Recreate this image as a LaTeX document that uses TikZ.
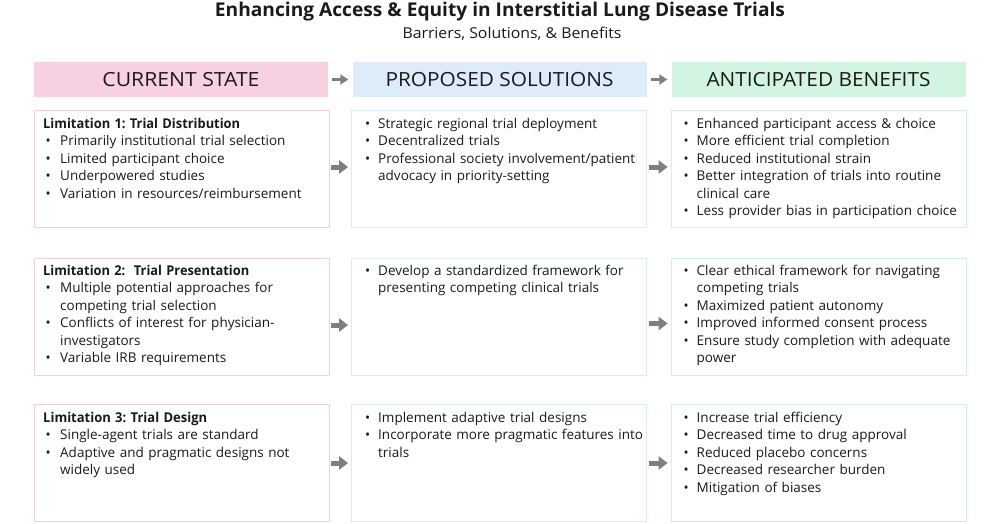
\documentclass[tikz,border=0pt]{standalone}
\usepackage{fontspec}
\setmainfont{Open Sans}
\usetikzlibrary{arrows.meta}
\definecolor{pinkfill}{HTML}{F7D0E1}
\definecolor{bluefill}{HTML}{DEEBF8}
\definecolor{greenfill}{HTML}{D4F4E2}
\definecolor{pinkline}{HTML}{F2D0DA}
\definecolor{blueline}{HTML}{D8EBF7}
\definecolor{greenline}{HTML}{D3EFE4}
\definecolor{arrowgray}{HTML}{7F7F7F}
\definecolor{ink}{HTML}{1A1A1A}
\newlength{\bo}\newlength{\bw}
\newcommand{\bitem}[1]{\noindent\hangindent=\bw\hangafter=1\strut\makebox[\bw][l]{\hspace{\bo}\textbullet}#1\par}
\newcommand{\bhead}[1]{\noindent\strut\textbf{#1}\par}
\begin{document}
\begin{tikzpicture}[x=1pt,y=-1pt,
  hdr/.style={minimum width=294pt,minimum height=35pt,inner sep=0pt,text=ink},
  cell/.style={draw=#1,line width=0.8pt,minimum width=295pt,minimum height=117pt,inner sep=0pt},
  txt/.style={inner sep=0pt,anchor=north west,text width=300pt,align=left,text=ink,
     font=\fontsize{13.5}{17.5}\selectfont\frenchspacing},
  colA/.style={txt,execute at begin node={\setlength{\bo}{2.5pt}\setlength{\bw}{17pt}\parindent=0pt}},
  colB/.style={txt,execute at begin node={\setlength{\bo}{1.5pt}\setlength{\bw}{14.5pt}\parindent=0pt}},
  arr/.style={arrowgray,line width=5pt,-{Triangle[length=9pt,width=13pt]},shorten <=2pt,shorten >=3pt},
  harr/.style={arrowgray,line width=3.5pt,-{Triangle[length=8pt,width=10pt]},shorten <=4pt,shorten >=4pt}
]
\useasboundingbox (0,0) rectangle (1000,523);
% title
\node[text=ink] (title) at (500,12) {\resizebox{570pt}{\height}{\fontsize{19}{22}\selectfont\bfseries Enhancing Access \& Equity in Interstitial Lung Disease Trials}};
\node[text=ink] (sub) at (512,34) {\resizebox{219pt}{\height}{\fontsize{15}{18}\selectfont Barriers, Solutions, \& Benefits}};
% headers
\node[hdr,fill=pinkfill] (h1) at (181,79.5) {\resizebox{157pt}{\height}{\fontsize{19.5}{22}\selectfont CURRENT STATE}};
\node[hdr,fill=bluefill] (h2) at (499.5,79.5) {\resizebox{228pt}{\height}{\fontsize{19.5}{22}\selectfont PROPOSED SOLUTIONS}};
\node[hdr,fill=greenfill] (h3) at (818.5,79.5) {\resizebox{224pt}{\height}{\fontsize{19.5}{22}\selectfont ANTICIPATED BENEFITS}};
\draw[harr] (h1) -- (h2);
\draw[harr] (h2) -- (h3);
% boxes
\node[cell=pinkline] (b11) at (181.5,169) {};
\node[cell=blueline] (b12) at (499,169) {};
\node[cell=greenline] (b13) at (818.5,169) {};
\node[cell=pinkline] (b21) at (181.5,316.5) {};
\node[cell=blueline] (b22) at (499,316.5) {};
\node[cell=greenline] (b23) at (818.5,316.5) {};
\node[cell=pinkline] (b31) at (181.5,463) {};
\node[cell=blueline] (b32) at (499,463) {};
\node[cell=greenline] (b33) at (818.5,463) {};
% texts row 1
\node[colA] (t11) at (43,116) {\bhead{\resizebox{197pt}{\height}{Limitation 1: Trial Distribution}}
\bitem{Primarily institutional trial selection}
\bitem{Limited participant choice}
\bitem{Underpowered studies}
\bitem{Variation in resources/reimbursement}};
\node[colB] (t12) at (363.5,116) {\bitem{Strategic regional trial deployment}
\bitem{Decentralized trials}
\bitem{Professional society involvement/patient\newline advocacy in priority-setting}};
\node[colB] (t13) at (682,116) {\bitem{Enhanced participant access \& choice}
\bitem{More efficient trial completion}
\bitem{Reduced institutional strain}
\bitem{Better integration of trials into routine\newline clinical care}
\bitem{Less provider bias in participation choice}};
% texts row 2
\node[colA] (t21) at (43,263) {\bhead{\resizebox{206pt}{\height}{Limitation 2:\ \ Trial Presentation}}
\bitem{Multiple potential approaches for\newline competing trial selection}
\bitem{Conflicts of interest for physician-\newline investigators}
\bitem{Variable IRB requirements}};
\node[colB] (t22) at (363.5,263) {\bitem{Develop a standardized framework for\newline presenting competing clinical trials}};
\node[colB] (t23) at (682,263) {\bitem{Clear ethical framework for navigating\newline competing trials}
\bitem{Maximized patient autonomy}
\bitem{Improved informed consent process}
\bitem{Ensure study completion with adequate\newline power}};
% texts row 3
\node[colA] (t31) at (43,410) {\bhead{\resizebox{164pt}{\height}{Limitation 3: Trial Design}}
\bitem{Single-agent trials are standard}
\bitem{Adaptive and pragmatic designs not\newline widely used}};
\node[colB] (t32) at (363.5,410) {\bitem{Implement adaptive trial designs}
\bitem{Incorporate more pragmatic features into\newline trials}};
\node[colB] (t33) at (682,410) {\bitem{Increase trial efficiency}
\bitem{Decreased time to drug approval}
\bitem{Reduced placebo concerns}
\bitem{Decreased researcher burden}
\bitem{Mitigation of biases}};
% arrows
\draw[arr] ([yshift=2pt]b11.east) -- ([yshift=2pt]b12.west);
\draw[arr] ([yshift=2pt]b12.east) -- ([yshift=2pt]b13.west);
\draw[arr] ([yshift=-8.5pt]b21.east) -- ([yshift=-8.5pt]b22.west);
\draw[arr] ([yshift=-7pt]b22.east) -- ([yshift=-7pt]b23.west);
\draw[arr] (b31.east) -- (b32.west);
\draw[arr] (b32.east) -- (b33.west);
\end{tikzpicture}
\end{document}
